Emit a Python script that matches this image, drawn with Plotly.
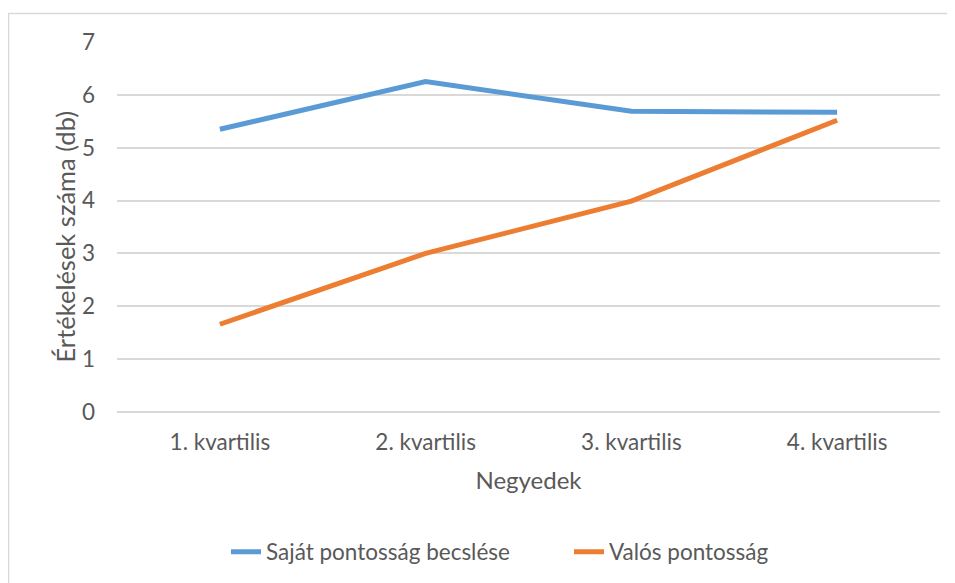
import plotly.graph_objects as go

categories = ["1. kvartilis", "2. kvartilis", "3. kvartilis", "4. kvartilis"]
sajat = [5.35, 6.25, 5.69, 5.67]
valos = [1.66, 3.0, 3.99, 5.52]
series_names = ["Saját pontosság becslése", "Valós pontosság"]
y_title = "Értékelések száma (db)"
x_title = "Negyedek"

OFF = 8  # page body margin
W, H = 955 - OFF, 583 - OFF
L, T = 117 - OFF, 42 - OFF
plot_right, plot_bottom = 940 - OFF, 412 - OFF
R, B = W - plot_right, H - plot_bottom
pw, ph = W - L - R, H - T - B

def px_x(page_x):
    return (page_x - OFF - L) / pw

def px_y(page_y):
    return 1 - (page_y - OFF - T) / ph

fig = go.Figure()
fig.add_trace(go.Scatter(x=categories, y=sajat, name=series_names[0], mode="lines",
                         line=dict(color="#5B9BD5", width=5)))
fig.add_trace(go.Scatter(x=categories, y=valos, name=series_names[1], mode="lines",
                         line=dict(color="#ED7D31", width=5)))

font = "Lato, 'Open Sans', sans-serif"
TICK, TITLE = 22.5, 24
fig.update_layout(
    width=W, height=H,
    margin=dict(l=L, r=R, t=T, b=B, autoexpand=False),
    paper_bgcolor="white", plot_bgcolor="white",
    font=dict(family=font, size=TICK, color="#595959"),
    showlegend=True,
    legend=dict(orientation="h", x=px_x(226), xanchor="left",
                y=px_y(552), yanchor="middle", entrywidth=298, entrywidthmode="pixels",
                font=dict(size=TICK, color="#595959"), traceorder="normal"),
    xaxis=dict(type="category", range=[-0.5, 3.5], showgrid=False, zeroline=False,
               showline=False, ticks="", ticklabelstandoff=14,
               tickfont=dict(size=TICK, color="#595959"),
               title=dict(text=x_title, font=dict(size=TITLE, color="#595959"), standoff=18)),
    yaxis=dict(range=[0, 7], dtick=1, showgrid=True, gridcolor="#D9D9D9", gridwidth=1.5,
               zeroline=True, zerolinecolor="#D9D9D9", zerolinewidth=1.5, showline=False,
               ticks="", ticklabelstandoff=21, tickfont=dict(size=TICK, color="#595959")),
    annotations=[dict(text=y_title, xref="paper", yref="paper", x=px_x(64), y=px_y(237.5),
                      xanchor="center", yanchor="middle", textangle=-90, showarrow=False,
                      font=dict(size=25.5, color="#595959", family=font))],
    shapes=[dict(type="rect", xref="paper", yref="paper",
                 x0=px_x(8.5), x1=px_x(980),
                 y0=px_y(610), y1=px_y(13.5),
                 line=dict(color="#D9D9D9", width=1.5), fillcolor="rgba(0,0,0,0)", layer="below")],
)

fig.write_html("out.html")
